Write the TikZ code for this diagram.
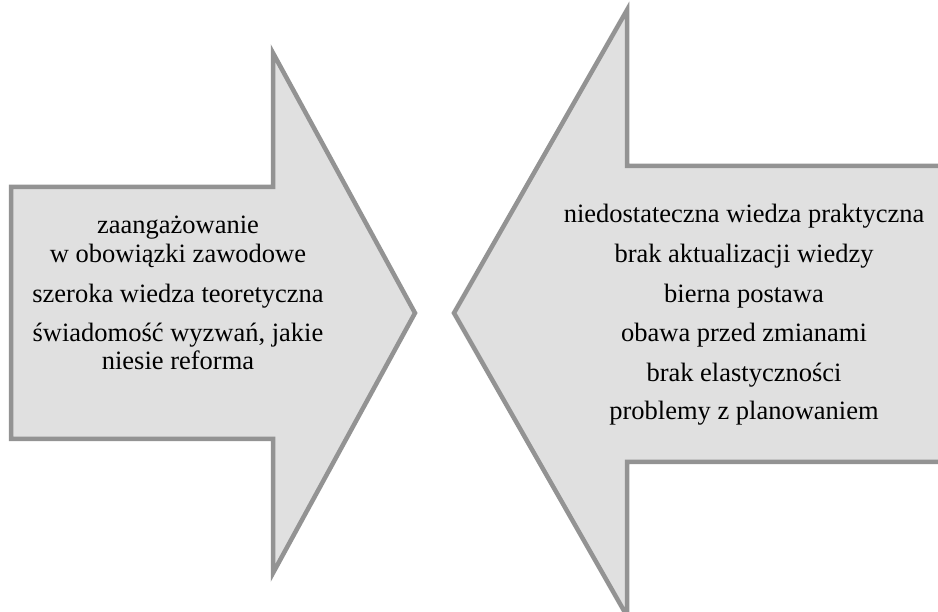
\documentclass[tikz,border=0pt]{standalone}
\usepackage{fontspec}
\setmainfont{Liberation Serif}
\definecolor{arrfill}{HTML}{E0E0E0}
\definecolor{arrline}{HTML}{939393}
\begin{document}
\begin{tikzpicture}[x=1pt,y=-1pt,
  arrowshape/.style={draw=arrline, fill=arrfill, line width=4.5pt, line join=miter},
  txt/.style={anchor=base, inner sep=0pt, font=\fontsize{26.5}{28}\selectfont}]
\useasboundingbox (0,0) rectangle (938,612);
\clip (0,0) rectangle (938,612);
% left arrow
\draw[arrowshape] (11,187) -- (273,187) -- (273,53) -- (415,313) -- (273,573) -- (273,439) -- (11,439) -- cycle;
% right arrow
\draw[arrowshape] (454,313) -- (627,10) -- (627,166) -- (960,166) -- (960,462) -- (627,462) -- (627,616) -- cycle;
% left text
\node[txt] (l1) at (178,234) {zaangażowanie};
\node[txt] (l2) at (178,263) {w obowiązki zawodowe};
\node[txt] (l3) at (178,303) {szeroka wiedza teoretyczna};
\node[txt] (l4) at (178,342) {świadomość wyzwań, jakie};
\node[txt] (l5) at (178,370) {niesie reforma};
% right text
\node[txt] (r1) at (744,223) {niedostateczna wiedza praktyczna};
\node[txt] (r2) at (744,263) {brak aktualizacji wiedzy};
\node[txt] (r3) at (744,303) {bierna postawa};
\node[txt] (r4) at (744,342) {obawa przed zmianami};
\node[txt] (r5) at (744,382) {brak elastyczności};
\node[txt] (r6) at (744,420) {problemy z planowaniem};
\end{tikzpicture}
\end{document}
